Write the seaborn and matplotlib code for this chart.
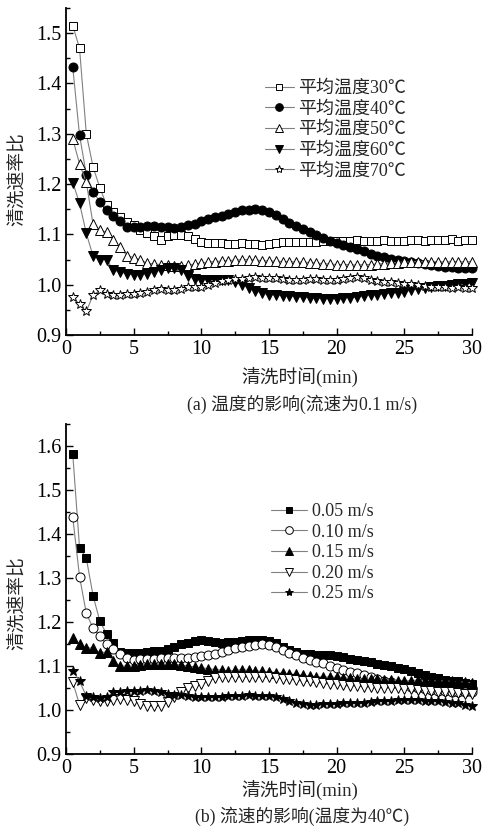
import numpy as np
import matplotlib
matplotlib.use("Agg")
import matplotlib.pyplot as plt
from matplotlib.ticker import MultipleLocator
import seaborn as sns

# sampling times, every 0.5 min
time = np.arange(1, 61) * 0.5

# (a) effect of temperature (flow 0.1 m/s)
temp_labels = ["平均温度30℃", "平均温度40℃", "平均温度50℃", "平均温度60℃", "平均温度70℃"]
t30 = [1.515, 1.470, 1.300, 1.234, 1.193, 1.158, 1.145, 1.135, 1.125, 1.118,
       1.108, 1.103, 1.096, 1.089, 1.096, 1.099, 1.099, 1.096, 1.090, 1.085,
       1.083, 1.082, 1.082, 1.081, 1.081, 1.082, 1.081, 1.080, 1.079, 1.081,
       1.083, 1.084, 1.084, 1.085, 1.085, 1.084, 1.085, 1.086, 1.086, 1.087,
       1.087, 1.086, 1.088, 1.087, 1.086, 1.087, 1.088, 1.087, 1.086, 1.087,
       1.088, 1.088, 1.087, 1.089, 1.088, 1.088, 1.090, 1.087, 1.088, 1.088]
t40 = [1.432, 1.297, 1.219, 1.185, 1.165, 1.149, 1.137, 1.126, 1.114, 1.114,
       1.115, 1.116, 1.116, 1.115, 1.114, 1.113, 1.115, 1.118, 1.121, 1.126,
       1.130, 1.134, 1.137, 1.141, 1.145, 1.148, 1.149, 1.150, 1.149, 1.145,
       1.139, 1.130, 1.122, 1.116, 1.110, 1.104, 1.099, 1.092, 1.087, 1.083,
       1.078, 1.074, 1.070, 1.066, 1.062, 1.058, 1.055, 1.052, 1.050, 1.047,
       1.045, 1.043, 1.041, 1.039, 1.037, 1.036, 1.035, 1.034, 1.033, 1.033]
t50 = [1.290, 1.240, 1.204, 1.120, 1.109, 1.104, 1.089, 1.074, 1.058, 1.054,
       1.049, 1.043, 1.041, 1.040, 1.039, 1.038, 1.037, 1.039, 1.041, 1.043,
       1.045, 1.046, 1.047, 1.048, 1.049, 1.050, 1.050, 1.049, 1.048, 1.047,
       1.047, 1.046, 1.046, 1.045, 1.045, 1.044, 1.043, 1.042, 1.041, 1.040,
       1.040, 1.040, 1.039, 1.040, 1.040, 1.041, 1.042, 1.043, 1.044, 1.045,
       1.045, 1.046, 1.045, 1.046, 1.046, 1.045, 1.046, 1.046, 1.045, 1.046]
t60 = [1.203, 1.162, 1.102, 1.057, 1.050, 1.050, 1.029, 1.025, 1.022, 1.019,
       1.020, 1.022, 1.025, 1.029, 1.033, 1.034, 1.029, 1.018, 1.012, 1.009,
       1.010, 1.010, 1.009, 1.009, 1.005, 0.999, 0.994, 0.988, 0.983, 0.980,
       0.979, 0.978, 0.977, 0.976, 0.975, 0.974, 0.973, 0.972, 0.972, 0.972,
       0.973, 0.974, 0.975, 0.977, 0.979, 0.980, 0.982, 0.983, 0.984, 0.986,
       0.989, 0.992, 0.994, 0.995, 0.997, 0.998, 0.999, 1.001, 1.002, 1.003]
t70 = [0.975, 0.961, 0.947, 0.979, 0.989, 0.982, 0.980, 0.979, 0.981, 0.982,
       0.984, 0.986, 0.989, 0.992, 0.990, 0.989, 0.992, 0.995, 0.995, 0.996,
       1.000, 1.003, 1.007, 1.009, 1.011, 1.012, 1.014, 1.015, 1.014, 1.014,
       1.013, 1.012, 1.010, 1.009, 1.010, 1.012, 1.011, 1.009, 1.009, 1.010,
       1.012, 1.013, 1.015, 1.013, 1.009, 1.007, 1.005, 1.005, 1.004, 1.002,
       1.001, 0.999, 0.997, 0.996, 0.995, 0.995, 0.994, 0.995, 0.994, 0.994]

# (b) effect of flow velocity (40 C)
flow_labels = ["0.05 m/s", "0.10 m/s", "0.15 m/s", "0.20 m/s", "0.25 m/s"]
v05 = [1.581, 1.369, 1.345, 1.260, 1.202, 1.173, 1.153, 1.132, 1.130, 1.130,
       1.130, 1.131, 1.133, 1.135, 1.138, 1.143, 1.149, 1.153, 1.156, 1.158,
       1.156, 1.154, 1.153, 1.154, 1.155, 1.157, 1.158, 1.159, 1.160, 1.157,
       1.152, 1.144, 1.137, 1.131, 1.128, 1.127, 1.126, 1.126, 1.125, 1.123,
       1.120, 1.117, 1.114, 1.111, 1.108, 1.105, 1.102, 1.099, 1.096, 1.093,
       1.089, 1.085, 1.080, 1.076, 1.072, 1.069, 1.067, 1.065, 1.062, 1.060]
v10 = [1.438, 1.303, 1.220, 1.186, 1.168, 1.149, 1.138, 1.128, 1.119, 1.114,
       1.115, 1.116, 1.117, 1.118, 1.119, 1.119, 1.119, 1.119, 1.120, 1.122,
       1.124, 1.128, 1.132, 1.136, 1.140, 1.143, 1.146, 1.148, 1.149, 1.147,
       1.143, 1.136, 1.130, 1.124, 1.118, 1.113, 1.109, 1.106, 1.101, 1.096,
       1.091, 1.087, 1.083, 1.079, 1.075, 1.071, 1.067, 1.063, 1.059, 1.056,
       1.053, 1.050, 1.047, 1.045, 1.044, 1.043, 1.042, 1.041, 1.040, 1.040]
v15 = [1.164, 1.149, 1.141, 1.141, 1.130, 1.132, 1.111, 1.100, 1.100, 1.100,
       1.102, 1.104, 1.105, 1.105, 1.104, 1.104, 1.102, 1.100, 1.098, 1.096,
       1.094, 1.092, 1.091, 1.089, 1.090, 1.092, 1.090, 1.089, 1.088, 1.087,
       1.085, 1.084, 1.082, 1.081, 1.079, 1.077, 1.076, 1.075, 1.075, 1.074,
       1.073, 1.072, 1.071, 1.070, 1.070, 1.070, 1.069, 1.068, 1.067, 1.066,
       1.067, 1.068, 1.067, 1.066, 1.066, 1.066, 1.065, 1.064, 1.063, 1.062]
v20 = [1.063, 1.012, 1.027, 1.022, 1.021, 1.021, 1.023, 1.025, 1.023, 1.021,
       1.014, 1.010, 1.008, 1.010, 1.018, 1.030, 1.041, 1.049, 1.054, 1.060,
       1.066, 1.072, 1.075, 1.075, 1.075, 1.075, 1.075, 1.074, 1.074, 1.074,
       1.073, 1.071, 1.070, 1.068, 1.066, 1.065, 1.063, 1.061, 1.059, 1.058,
       1.056, 1.055, 1.054, 1.053, 1.052, 1.051, 1.050, 1.050, 1.049, 1.048,
       1.047, 1.046, 1.044, 1.043, 1.042, 1.041, 1.040, 1.039, 1.037, 1.036]
v25 = [1.089, 1.065, 1.032, 1.029, 1.028, 1.029, 1.040, 1.042, 1.043, 1.044,
       1.044, 1.045, 1.043, 1.041, 1.037, 1.035, 1.033, 1.031, 1.030, 1.030,
       1.030, 1.030, 1.030, 1.031, 1.032, 1.032, 1.033, 1.032, 1.032, 1.031,
       1.029, 1.025, 1.020, 1.015, 1.013, 1.012, 1.012, 1.013, 1.014, 1.014,
       1.015, 1.015, 1.016, 1.017, 1.018, 1.020, 1.021, 1.021, 1.022, 1.023,
       1.023, 1.022, 1.021, 1.021, 1.020, 1.018, 1.017, 1.015, 1.012, 1.008]

sns.set_theme(style="ticks")
plt.rcParams["font.family"] = ["Liberation Serif", "Noto Sans CJK SC"]
plt.rcParams.update({
    "xtick.direction": "in", "ytick.direction": "in",
    "xtick.major.size": 5, "ytick.major.size": 5,
    "xtick.minor.size": 3, "ytick.minor.size": 3,
    "xtick.major.width": 1, "ytick.major.width": 1,
    "xtick.minor.width": 1, "ytick.minor.width": 1,
    "axes.linewidth": 1.3, "axes.edgecolor": "black",
    "xtick.color": "black", "ytick.color": "black",
    "xtick.labelsize": 14.5, "ytick.labelsize": 14.5,
})

W, H = 484, 826
fig = plt.figure(figsize=(W / 100, H / 100), dpi=100)
ax_a = fig.add_axes([66 / W, 1 - 335 / H, 406 / W, 327 / H])
ax_b = fig.add_axes([66 / W, 1 - 754 / H, 406 / W, 330 / H])


def draw_panel(ax, series, labels, markers, filled, sizes):
    for vals, lab, mk, fill, ms in zip(series, labels, markers, filled, sizes):
        sns.lineplot(x=time, y=vals, ax=ax, color="#808080", lw=0.8,
                     marker=mk, ms=ms, mfc="black" if fill else "white",
                     mec="black", mew=0.7, label=lab, clip_on=False)
    ax.set_xlim(0, 30)
    ax.xaxis.set_major_locator(MultipleLocator(5))
    ax.xaxis.set_minor_locator(MultipleLocator(2.5))
    ax.yaxis.set_major_locator(MultipleLocator(0.1))
    ax.yaxis.set_minor_locator(MultipleLocator(0.05))
    ax.yaxis.set_major_formatter(plt.FormatStrFormatter("%.1f"))
    ax.set_xlabel("")
    ax.set_ylabel("")
    sns.despine(ax=ax)


draw_panel(ax_a, [t30, t40, t50, t60, t70], temp_labels,
           ["s", "o", "^", "v", "*"], [False, True, False, True, False],
           [5.5, 6.5, 6.5, 6.5, 7])
ax_a.set_ylim(0.9, 1.55)

draw_panel(ax_b, [v05, v10, v15, v20, v25], flow_labels,
           ["s", "o", "^", "v", "*"], [True, False, True, False, True],
           [5.5, 6.5, 6.5, 6.5, 7])
ax_b.set_ylim(0.9, 1.65)

leg_kw = dict(loc="upper left", frameon=False, fontsize=13, borderpad=0,
              borderaxespad=0, handletextpad=0.25, labelspacing=0.2,
              markerscale=0.85, bbox_transform=fig.transFigure)
ax_a.legend(handlelength=1.6, bbox_to_anchor=(265 / W, 1 - 80 / H), **leg_kw)
ax_b.legend(handlelength=2.0, bbox_to_anchor=(271 / W, 1 - 503 / H), **leg_kw)

# axis titles and captions
fig.text(17 / W, 1 - 179 / H, "清洗速率比", rotation=90, ha="center", va="center", fontsize=13.5)
fig.text(17 / W, 1 - 603 / H, "清洗速率比", rotation=90, ha="center", va="center", fontsize=13.5)
fig.text(300 / W, 1 - 377 / H, "清洗时间(min)", ha="center", va="center", fontsize=13.5)
fig.text(300 / W, 1 - 790 / H, "清洗时间(min)", ha="center", va="center", fontsize=13.5)
fig.text(302 / W, 1 - 404 / H, "(a) 温度的影响(流速为0.1 m/s)", ha="center", va="center", fontsize=12.8)
fig.text(302 / W, 1 - 816 / H, "(b) 流速的影响(温度为40℃)", ha="center", va="center", fontsize=12.8)

fig.savefig("out.png", dpi=100)
